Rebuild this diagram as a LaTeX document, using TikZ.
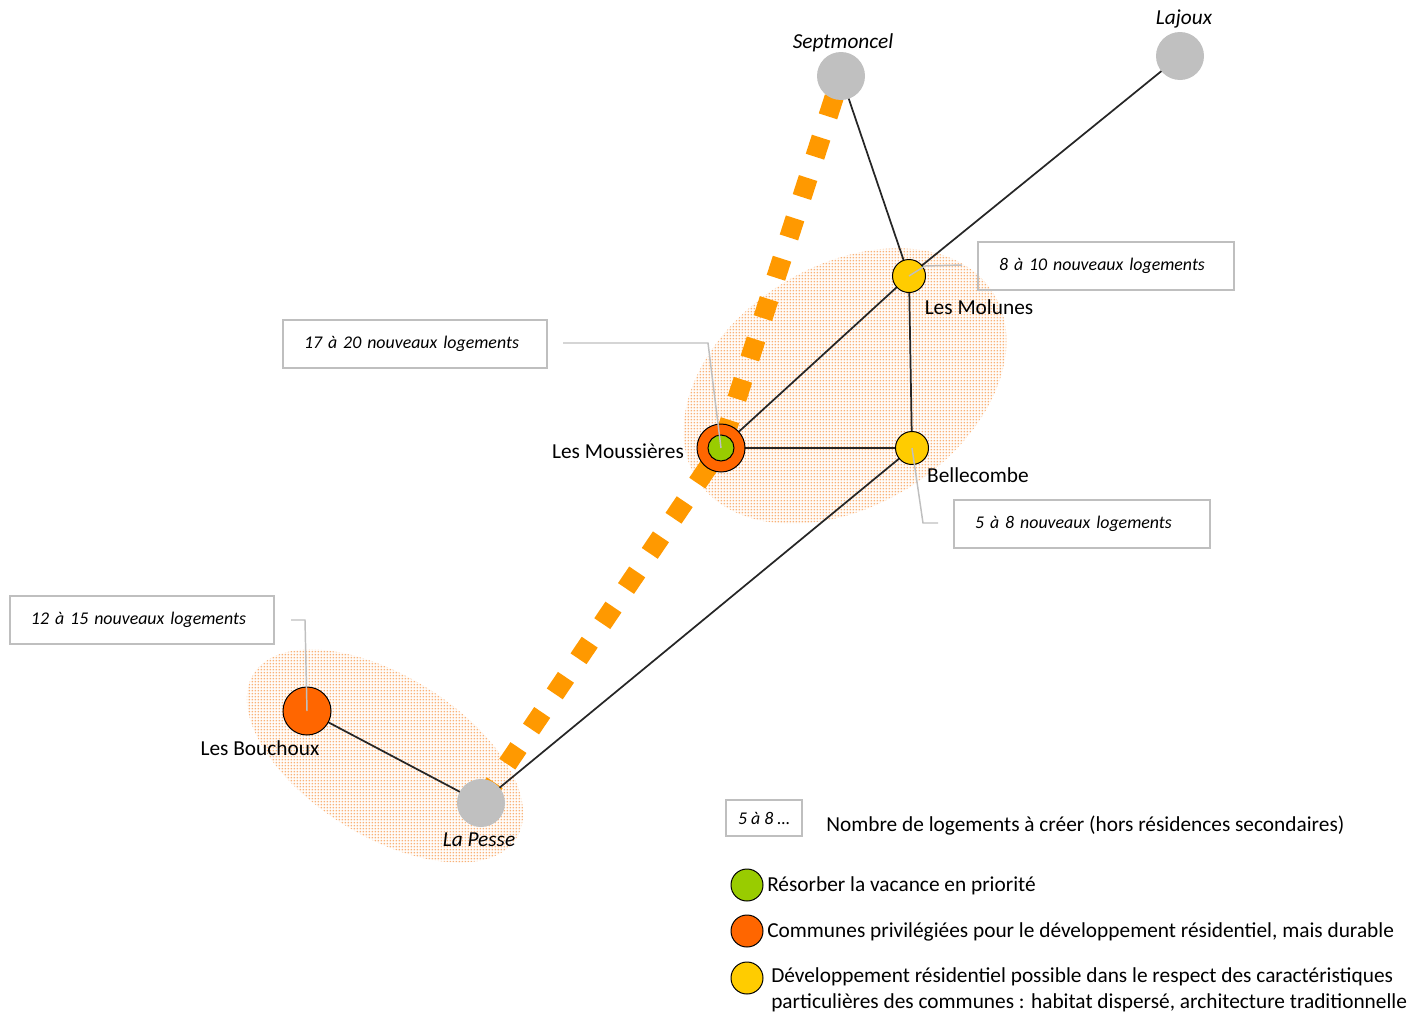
\documentclass[tikz,border=0pt]{standalone}
\usepackage{fontspec}
\setmainfont{Carlito}
\usetikzlibrary{patterns}
\definecolor{cgrey}{HTML}{C0C0C0}
\definecolor{cyel}{HTML}{FFCC00}
\definecolor{corg}{HTML}{FF6600}
\definecolor{cgrn}{HTML}{99CC00}
\definecolor{cdash}{HTML}{FF9900}
\definecolor{cdot}{HTML}{F9B278}
\definecolor{cbox}{HTML}{BFBFBF}
\definecolor{cedge}{HTML}{262626}
\pgfdeclarepatternformonly{odots}{\pgfqpoint{0pt}{0pt}}{\pgfqpoint{2.5pt}{2.5pt}}{\pgfqpoint{2.5pt}{2.5pt}}{%
  \pgfpathrectangle{\pgfqpoint{0.6pt}{0.6pt}}{\pgfqpoint{1.25pt}{1.25pt}}\pgfusepath{fill}}
\pgfdeclarelayer{bg}
\pgfdeclarelayer{edges}
\pgfdeclarelayer{top}
\pgfsetlayers{bg,edges,main,top}
\begin{document}
\begin{tikzpicture}[x=0.75pt,y=-0.75pt,
  lbl/.style={font=\fontsize{16}{19}\selectfont, inner sep=0pt},
  ilbl/.style={font=\fontsize{16}{19}\selectfont\itshape, inner sep=0pt},
  town/.style={circle, draw=black, line width=0.75pt, inner sep=0pt, minimum size=#1*0.75pt},
  gtown/.style={circle, fill=cgrey, inner sep=0pt, minimum size=48*0.75pt},
  edge/.style={draw=cedge, line width=1.3pt},
  orangedash/.style={draw=cdash, line width=14.5pt, dash pattern=on 15pt off 16.8pt, dash phase=15pt},
  callout/.style={draw=cbox, line width=1.1pt},
  cbox/.style={draw=cbox, line width=1.5pt, inner xsep=15.75pt, inner ysep=0pt, minimum height=36pt, align=left, font=\fontsize{13.4}{16}\selectfont\itshape},
  zone/.style={pattern=odots, pattern color=cdot}
]
\useasboundingbox (0,0) rectangle (1425,1014);

% zones
\begin{pgfonlayer}{bg}
\fill[zone, rotate around={32:(845,386)}] (845,386) ellipse [x radius=175, y radius=120];
\fill[zone, rotate around={-32:(385,756)}] (385,756) ellipse [x radius=155, y radius=80];
\end{pgfonlayer}

% towns
\node[gtown] (sept) at (841,76) {};
\node[gtown] (laj) at (1180,56) {};
\node[gtown] (pes) at (481,803) {};
\node[town=33, fill=cyel] (mol) at (909,276) {};
\node[town=33, fill=cyel] (bel) at (912,448) {};
\node[town=48, fill=corg] (mous) at (721,448) {};
\node[town=26, fill=cgrn] (mousin) at (721,448) {};
\node[town=48, fill=corg] (bou) at (307,711) {};

% labels
\node[ilbl] (lsept) at (843,43) {Septmoncel};
\node[ilbl] (llaj) at (1184,19) {Lajoux};
\node[ilbl] (lpes) at (479,840) {La Pesse};
\node[lbl] (lmol) at (979,307) {Les Molunes};
\node[lbl] (lbel) at (978,475) {Bellecombe};
\node[lbl] (lmous) at (618,451) {Les Moussières};
\node[lbl] (lbou) at (260,748) {Les Bouchoux};

% edges
\begin{pgfonlayer}{edges}
\draw[orangedash] (sept.center) -- (mous.center);
\draw[orangedash] (mous.center) -- (pes.center);
\draw[edge] (sept.center) -- (mol.center);
\draw[edge] (laj.center) -- (mol.center);
\draw[edge] (mol.center) -- (mous.center);
\draw[edge] (mol.center) -- (bel.center);
\draw[edge] (mous.center) -- (bel.center);
\draw[edge] (bel.center) -- (pes.center);
\draw[edge] (bou.center) -- (pes.center);
\end{pgfonlayer}

% callout boxes
\node[cbox, text width=160.5pt] (b1) at (1106,266) {8 à 10 nouveaux logements};
\node[cbox, text width=166.5pt] (b2) at (415,344) {17 à 20 nouveaux logements};
\node[cbox, text width=160.5pt] (b3) at (1082,523.5) {5 à 8 nouveaux logements};
\node[cbox, text width=166.5pt] (b4) at (142,619.5) {12 à 15 nouveaux logements};

\coordinate (e1) at (962,265);
\coordinate (e2) at (563,343);
\coordinate (e3) at (938,523);
\coordinate (e4) at (291,620);
\begin{pgfonlayer}{top}
\draw[callout] (mol.center) -- (925,266) -- (e1);
\draw[callout] (mous.center) -- (708,343) -- (e2);
\draw[callout] (bel.center) -- (923,523) -- (e3);
\draw[callout] (bou.center) -- (305,620) -- (e4);
\end{pgfonlayer}

% legend
\node[draw=cbox, line width=1.5pt, minimum width=57pt, minimum height=27pt, inner sep=0pt, font=\fontsize{13.4}{16}\selectfont\itshape] (lgbox) at (764,818) {5 à 8 …};
\node[lbl, anchor=west] (lgt0) at (826,826) {Nombre de logements à créer (hors résidences secondaires)};
\node[town=32, fill=cgrn] (lg1) at (747,885) {};
\node[town=32, fill=corg] (lg2) at (747,931) {};
\node[town=32, fill=cyel] (lg3) at (747,978) {};
\node[lbl, anchor=west] (lgt1) at (767,886) {Résorber la vacance en priorité};
\node[lbl, anchor=west] (lgt2) at (767,932) {Communes privilégiées pour le développement résidentiel, mais durable};
\node[lbl, anchor=west, align=left, font=\fontsize{16}{19.5}\selectfont] (lgt3) at (771,990) {Développement résidentiel possible dans le respect des caractéristiques\\particulières des communes : habitat dispersé, architecture traditionnelle};
\end{tikzpicture}
\end{document}
